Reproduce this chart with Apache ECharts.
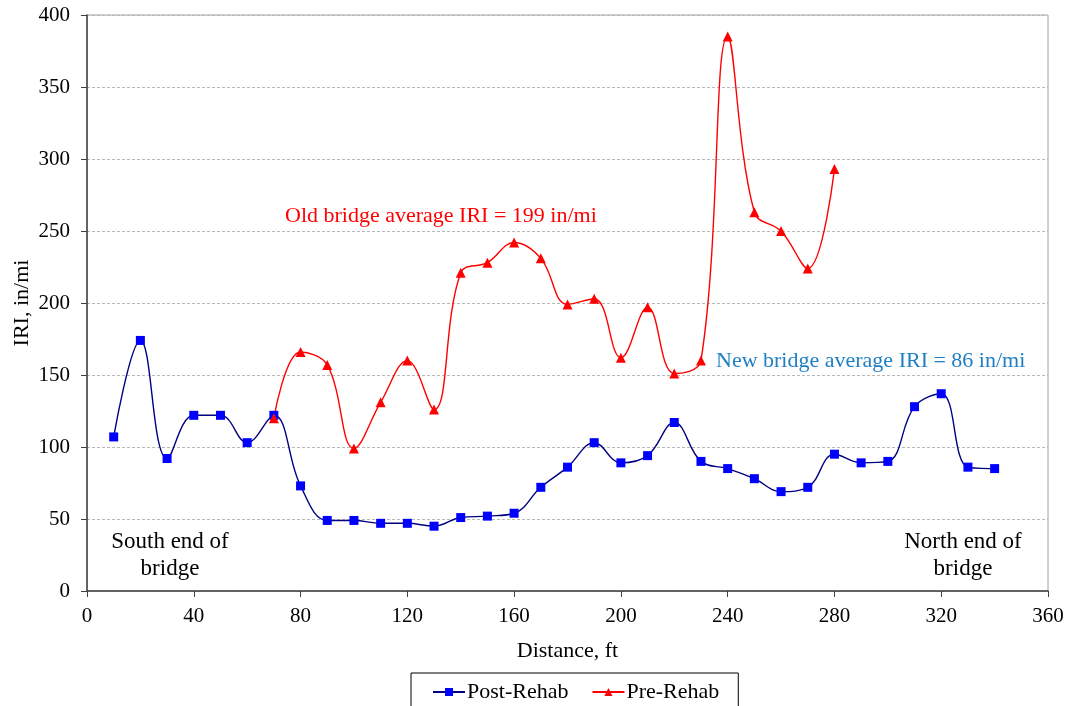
<!DOCTYPE html>
<html>
<head>
<meta charset="utf-8">
<script src="https://cdn.jsdelivr.net/npm/echarts@6/dist/echarts.min.js"></script>
<style>html,body{margin:0;padding:0;background:#fff}#c{width:1068px;height:706px}</style>
</head>
<body>
<div id="c"></div>
<script>
const postDist = [10,20,30,40,50,60,70,80,90,100,110,120,130,140,150,160,170,180,190,200,210,220,230,240,250,260,270,280,290,300,310,320,330,340];
const postIRI  = [107,174,92,122,122,103,122,73,49,49,47,47,45,51,52,54,72,86,103,89,94,117,90,85,78,69,72,95,89,90,128,137,86,85];
const preDist  = [70,80,90,100,110,120,130,140,150,160,170,180,190,200,210,220,230,240,250,260,270,280];
const preIRI   = [120,166,157,99,131,160,126,221,228,242,231,199,203,162,197,151,160,385,263,250,224,293];
const xTicks = [0,40,80,120,160,200,240,280,320,360];
const yTicks = [0,50,100,150,200,250,300,350,400];

const FONT = '"Liberation Serif", "Times New Roman", serif';
const chart = echarts.init(document.getElementById('c'));
chart.setOption({
  animation: false,
  textStyle: {fontFamily: FONT},
  grid: {left: 87, right: 20, top: 15, bottom: 115, show: true, borderColor: '#a0a0a0', borderWidth: 1, containLabel: false, outerBoundsMode: 'none'},
  xAxis: {
    type: 'value', min: xTicks[0], max: xTicks[xTicks.length-1], interval: 40,
    name: 'Distance, ft', nameLocation: 'middle', nameGap: 49, nameMoveOverlap: false,
    nameTextStyle: {fontFamily: FONT, fontSize: 22, color: '#000'},
    axisLine: {show: true, lineStyle: {color: '#404040', width: 1.5}},
    axisTick: {show: true, length: 6, inside: false, lineStyle: {color: '#404040'}},
    axisLabel: {fontFamily: FONT, fontSize: 21, color: '#000', margin: 15},
    splitLine: {show: false}
  },
  yAxis: {
    type: 'value', min: yTicks[0], max: yTicks[yTicks.length-1], interval: 50,
    name: 'IRI, in/mi', nameLocation: 'middle', nameGap: 54, nameRotate: 90, nameMoveOverlap: false,
    nameTextStyle: {fontFamily: FONT, fontSize: 22, color: '#000'},
    axisLine: {show: true, lineStyle: {color: '#404040', width: 1.5}},
    axisTick: {show: true, length: 6, lineStyle: {color: '#404040'}},
    axisLabel: {fontFamily: FONT, fontSize: 21, color: '#000', margin: 17},
    splitLine: {show: true, lineStyle: {color: '#b8b8b8', type: [3, 2], width: 1}}
  },
  legend: {
    left: 411, top: 673, itemWidth: 32, itemHeight: 10, itemGap: 23,
    padding: [8, 19, 20, 21],
    borderColor: '#000', borderWidth: 1,
    textStyle: {fontFamily: FONT, fontSize: 22, color: '#000', padding: [0, 0, 0, -3]},
    data: ['Post-Rehab', 'Pre-Rehab']
  },
  series: [
    {
      name: 'Post-Rehab', type: 'line', smooth: 0.4,
      data: postDist.map((d, i) => [d, postIRI[i]]),
      symbol: 'rect', symbolSize: 9,
      lineStyle: {color: '#000080', width: 1.4},
      itemStyle: {color: '#0000ff'}
    },
    {
      name: 'Pre-Rehab', type: 'line', smooth: 0.4,
      data: preDist.map((d, i) => [d, preIRI[i]]),
      symbol: 'triangle', symbolSize: 10,
      lineStyle: {color: '#ff0000', width: 1.4},
      itemStyle: {color: '#ff0000'}
    }
  ],
  graphic: [
    {type: 'text', x: 170, y: 528, style: {text: 'South end of\nbridge', align: 'center', font: '23px ' + FONT, fill: '#000', lineHeight: 27}},
    {type: 'text', x: 963, y: 528, style: {text: 'North end of\nbridge', align: 'center', font: '23px ' + FONT, fill: '#000', lineHeight: 27}},
    {type: 'text', left: 285, top: 205, style: {text: 'Old bridge average IRI = 199 in/mi', font: '22px ' + FONT, fill: '#ff0000'}},
    {type: 'text', left: 716, top: 350, style: {text: 'New bridge average IRI = 86 in/mi', font: '22px ' + FONT, fill: '#1f7fc4'}}
  ]
});
</script>
</body>
</html>
